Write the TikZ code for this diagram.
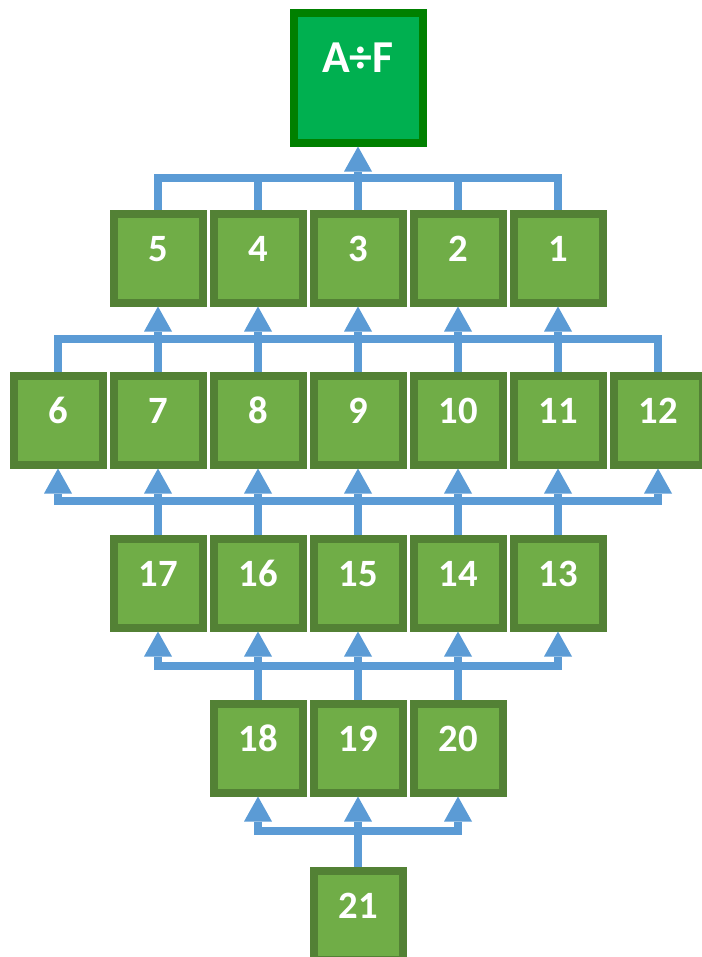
\documentclass[tikz,border=0pt]{standalone}
\usepackage{fontspec}
\setmainfont{Carlito}
\usepackage{tikz}
\usetikzlibrary{arrows.meta}
\definecolor{boxfill}{HTML}{70AD47}
\definecolor{boxline}{HTML}{538135}
\definecolor{goalfill}{HTML}{00B050}
\definecolor{goalline}{HTML}{008000}
\definecolor{linkcolor}{HTML}{5B9BD5}
\tikzset{
  numbox/.style={draw=boxline, fill=boxfill, line width=0.16cm, rectangle, minimum width=1.78cm, minimum height=1.78cm, inner sep=0pt, text=white, font=\bfseries\fontsize{22pt}{26pt}\selectfont, text height=0.56cm, text depth=0.44cm},
  goalbox/.style={draw=goalline, fill=goalfill, line width=0.16cm, rectangle, minimum width=2.58cm, minimum height=2.58cm, inner sep=0pt, text=white, font=\bfseries\fontsize{26pt}{31pt}\selectfont, text height=0.4cm, text depth=0.63cm},
  link/.style={draw=linkcolor, line width=0.16cm},
  tip/.style={-{Triangle[width=0.56cm, length=0.5cm, line width=0pt]}},
  tips/.style={{Triangle[width=0.56cm, length=0.5cm, line width=0pt]}-{Triangle[width=0.56cm, length=0.5cm, line width=0pt]}},
}

\begin{document}
\begin{tikzpicture}%
\useasboundingbox (0,0) rectangle (14.02,-19.14);%
% goal
\node[goalbox] (goal) at (7.16,-1.56) {A÷F};%
% row 1
\node[numbox] (n5) at (3.16,-5.16) {5};%
\node[numbox] (n4) at (5.16,-5.16) {4};%
\node[numbox] (n3) at (7.16,-5.16) {3};%
\node[numbox] (n2) at (9.16,-5.16) {2};%
\node[numbox] (n1) at (11.16,-5.16) {1};%
% row 2
\node[numbox] (n6) at (1.16,-8.40) {6};%
\node[numbox] (n7) at (3.16,-8.40) {7};%
\node[numbox] (n8) at (5.16,-8.40) {8};%
\node[numbox] (n9) at (7.16,-8.40) {9};%
\node[numbox] (n10) at (9.16,-8.40) {10};%
\node[numbox] (n11) at (11.16,-8.40) {11};%
\node[numbox] (n12) at (13.16,-8.40) {12};%
% row 3
\node[numbox] (n17) at (3.16,-11.66) {17};%
\node[numbox] (n16) at (5.16,-11.66) {16};%
\node[numbox] (n15) at (7.16,-11.66) {15};%
\node[numbox] (n14) at (9.16,-11.66) {14};%
\node[numbox] (n13) at (11.16,-11.66) {13};%
% row 4
\node[numbox] (n18) at (5.16,-14.96) {18};%
\node[numbox] (n19) at (7.16,-14.96) {19};%
\node[numbox] (n20) at (9.16,-14.96) {20};%
% row 5
\node[numbox] (n21) at (7.16,-18.30) {21};%
% bar levels
\coordinate (bar1) at (0,-3.56);%
\coordinate (bar2) at (0,-6.78);%
\coordinate (bar3) at (0,-10.02);%
\coordinate (bar4) at (0,-13.32);%
\coordinate (bar5) at (0,-16.62);%
% row 1 -> goal
\draw[link] (n5.north) -- (n5.north |- bar1) -- (n1.north |- bar1) -- (n1.north);%
\draw[link] (n4.north) -- (n4.north |- bar1);%
\draw[link] (n2.north) -- (n2.north |- bar1);%
\draw[link, tip] (n3.north) -- (goal.south);%
% row 2 -> row 1
\draw[link] (n6.north) -- (n6.north |- bar2) -- (n12.north |- bar2) -- (n12.north);%
\draw[link, tip] (n7.north) -- (n5.south);%
\draw[link, tip] (n8.north) -- (n4.south);%
\draw[link, tip] (n9.north) -- (n3.south);%
\draw[link, tip] (n10.north) -- (n2.south);%
\draw[link, tip] (n11.north) -- (n1.south);%
% row 3 -> row 2
\draw[link, tips] (n6.south) -- (n6.south |- bar3) -- (n12.south |- bar3) -- (n12.south);%
\draw[link, tip] (n17.north) -- (n7.south);%
\draw[link, tip] (n16.north) -- (n8.south);%
\draw[link, tip] (n15.north) -- (n9.south);%
\draw[link, tip] (n14.north) -- (n10.south);%
\draw[link, tip] (n13.north) -- (n11.south);%
% row 4 -> row 3
\draw[link, tips] (n17.south) -- (n17.south |- bar4) -- (n13.south |- bar4) -- (n13.south);%
\draw[link, tip] (n18.north) -- (n16.south);%
\draw[link, tip] (n19.north) -- (n15.south);%
\draw[link, tip] (n20.north) -- (n14.south);%
% row 5 -> row 4
\draw[link, tips] (n18.south) -- (n18.south |- bar5) -- (n20.south |- bar5) -- (n20.south);%
\draw[link, tip] (n21.north) -- (n19.south);%
\end{tikzpicture}
\end{document}
